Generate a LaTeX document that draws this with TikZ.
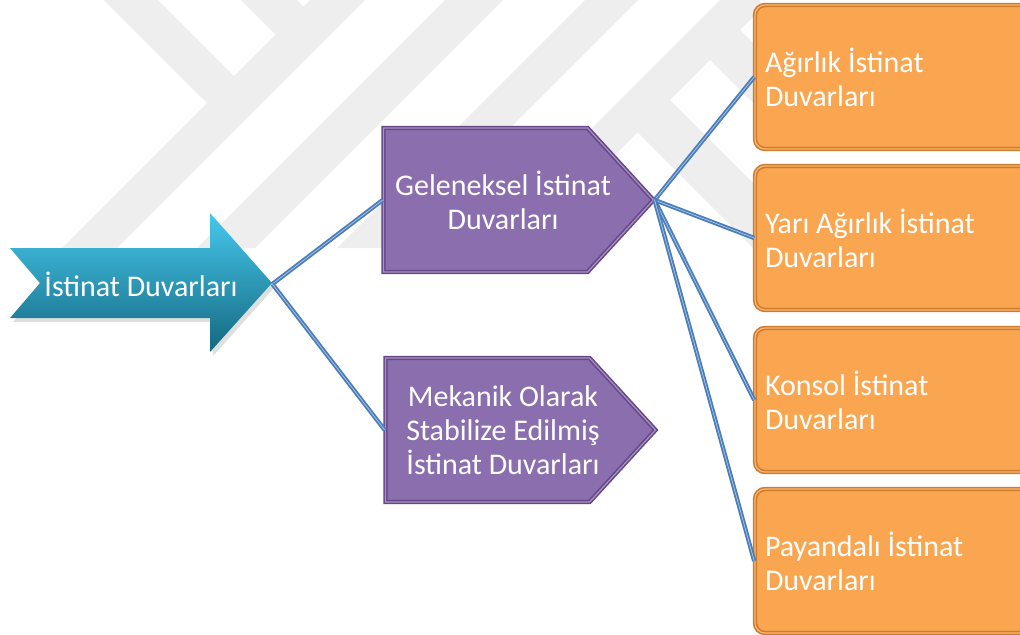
\documentclass[tikz,border=0pt]{standalone}
\usepackage{fontspec}
\setmainfont{Carlito}
\usetikzlibrary{shapes.symbols, positioning, calc, shadows}

\definecolor{rootlight}{RGB}{70,200,236}
\definecolor{rootdark}{RGB}{20,104,128}
\definecolor{stagefill}{RGB}{139,110,174}
\definecolor{stageedge}{RGB}{100,72,136}
\definecolor{leaffill}{RGB}{250,165,80}
\definecolor{leafedge}{RGB}{205,124,46}
\definecolor{linkblue}{RGB}{74,126,187}
\definecolor{wmgray}{RGB}{238,238,238}

\begin{document}
\begin{tikzpicture}[x=0.5pt, y=-0.5pt]
% Stile
\tikzset{
  rootshape/.style={top color=rootlight, bottom color=rootdark, drop shadow={opacity=0.25, shadow xshift=1.5pt, shadow yshift=-2pt}},
  roottext/.style={text=white, minimum width=131pt, inner sep=0pt, font=\fontsize{15}{17}\selectfont},
  stage/.style={signal, signal to=east, signal pointer angle=95, fill=stagefill, draw=stageedge, double=stagefill!75!white, double distance=0.6pt, line width=0.8pt, minimum width=135pt, minimum height=72pt, inner sep=0pt},
  stagetext/.style={text=white, align=center, font=\fontsize{15}{17}\selectfont},
  leaf/.style={rectangle, rounded corners=5pt, fill=leaffill, draw=leafedge, double=leaffill!80!white, double distance=0.6pt, line width=0.8pt, minimum width=140pt, minimum height=72pt, text width=130pt, inner xsep=5pt, align=flush left, text=white, font=\fontsize{15}{17}\selectfont},
  link/.style={draw=linkblue, line width=0.9pt, double=linkblue!45!white, double distance=0.35pt}
}

\useasboundingbox (0,0) rectangle (1020,634);
\clip (0,0) rectangle (1020,634);

%==========================
% Wasserzeichen
%==========================
\begin{scope}
\clip (0,0) rectangle (760,248);
\fill[wmgray] (310,0) -- (365,0) -- (117,248) -- (62,248) -- cycle;
\fill[wmgray] (445,0) -- (503,0) -- (255,248) -- (197,248) -- cycle;
\fill[wmgray] (585,0) -- (638,0) -- (390,248) -- (337,248) -- cycle;
\fill[wmgray] (720,0) -- (770,0) -- (522,248) -- (472,248) -- cycle;
\fill[wmgray] (104,0) -- (158,0) -- (249,91) -- (222,118) -- cycle;
\fill[wmgray] (241,0) -- (297,0) -- (318.5,21.5) -- (290.5,49.5) -- cycle;
\fill[wmgray] (625,120) -- (657.5,87.5) -- (818,248) -- (753,248) -- cycle;
\fill[wmgray] (697.5,47.5) -- (727.5,17.5) -- (958,248) -- (898,248) -- cycle;
\end{scope}

%==========================
% Knoten
%==========================
\path[rootshape] (10,248) -- (210,248) -- (210,213) -- (272,283) -- (210,352) -- (210,318) -- (10,318) -- (40,283) -- cycle;
\node[roottext] (root) at (141,284) {İstinat Duvarları};

\node[stage] (gel) at (485.5,200) {};
\node[stagetext] (geltext) at (503,200) {Geleneksel İstinat\\Duvarları};

\node[stage] (mek) at (487.5,430) {};
\node[stagetext] (mektext) at (503,430) {Mekanik Olarak\\Stabilize Edilmiş\\İstinat Duvarları};

\node[leaf] (agirlik) at (895,77) {Ağırlık İstinat\\Duvarları};
\node[leaf] (yari) at (895,238) {Yarı Ağırlık İstinat\\Duvarları};
\node[leaf] (konsol) at (895,400) {Konsol İstinat\\Duvarları};
\node[leaf] (payandali) at (895,561) {Payandalı İstinat\\Duvarları};

% === Verbindungen ===
\draw[link] (root.east) -- (gel.west);
\draw[link] (root.east) -- (mek.west);
\draw[link] (gel.east) -- (agirlik.west);
\draw[link] (gel.east) -- (yari.west);
\draw[link] (gel.east) -- (konsol.west);
\draw[link] (gel.east) -- (payandali.west);
\end{tikzpicture}
\end{document}
